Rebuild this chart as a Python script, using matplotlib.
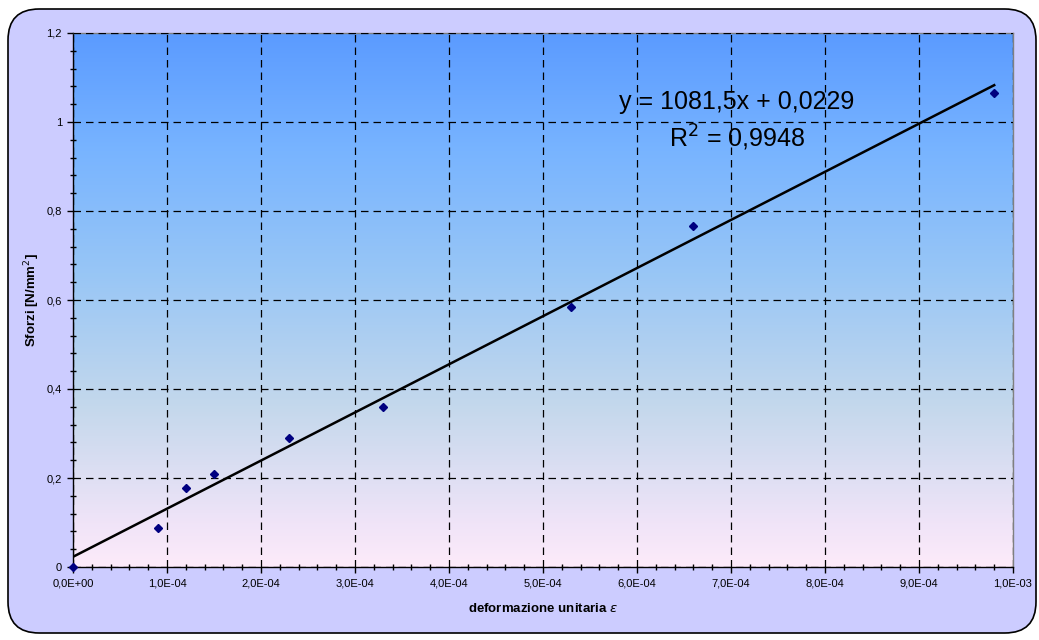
import numpy as np
import matplotlib
matplotlib.use('agg')
from matplotlib import pyplot as plt
from matplotlib.patches import FancyBboxPatch
from matplotlib.colors import LinearSegmentedColormap
from matplotlib.ticker import MultipleLocator, FuncFormatter

# measured points
strain = [0.0, 9.0e-5, 1.2e-4, 1.5e-4, 2.3e-4, 3.3e-4, 5.3e-4, 6.6e-4, 9.8e-4]
stress = [0.0, 0.087, 0.178, 0.210, 0.290, 0.360, 0.584, 0.767, 1.066]

# trendline from the sheet
slope = 1081.5
intercept = 0.0229
r_squared = 0.9948

plt.rcParams['font.family'] = ['Liberation Sans', 'DejaVu Sans']

fig = plt.figure(figsize=(10.39, 6.4), dpi=100)
fig.patch.set_facecolor('white')

# rounded chart area (behind the axes)
frame = FancyBboxPatch((8 / 1039, 7 / 640), 1028 / 1039, 624 / 640,
                       boxstyle="round,pad=0,rounding_size=0.03",
                       transform=fig.transFigure, facecolor='#CCCCFF',
                       edgecolor='black', linewidth=1.2, mutation_aspect=1039 / 640,
                       zorder=-10)
fig.add_artist(frame)

ax = fig.add_axes([73 / 1039, 1 - 567 / 640, 940 / 1039, 534 / 640])
ax.set_xlim(0, 1e-3)
ax.set_ylim(0, 1.2)

# plot area gradient, blue on top to pink at the bottom
cmap = LinearSegmentedColormap.from_list('bg', [
    (0.0, '#FDEBFA'),
    (0.08, '#F0E4F8'),
    (0.30, '#C4D8EC'),
    (0.55, '#98C6F6'),
    (0.78, '#78B4FF'),
    (1.0, '#5B9BFF'),
])
grad = np.linspace(0, 1, 256).reshape(-1, 1)
ax.imshow(grad, cmap=cmap, origin='lower', aspect='auto',
          extent=[0, 1, 0, 1], transform=ax.transAxes, zorder=0)

ax.grid(True, which='major', color='black', linestyle=(0, (6, 4)), linewidth=0.9, zorder=1)
ax.set_axisbelow(False)

xs = np.array([0, max(strain)])
ax.plot(xs, slope * xs + intercept, color='black', linewidth=1.8, zorder=3)
ax.plot(strain, stress, linestyle='none', marker='D', markersize=4.5,
        color='#000080', zorder=4, clip_on=False)

ax.xaxis.set_major_locator(MultipleLocator(1e-4))
ax.xaxis.set_minor_locator(MultipleLocator(2e-5))
ax.yaxis.set_major_locator(MultipleLocator(0.2))
ax.yaxis.set_minor_locator(MultipleLocator(0.04))
ax.xaxis.set_major_formatter(FuncFormatter(lambda v, p: f"{v:.1E}".replace('.', ',')))
ax.yaxis.set_major_formatter(FuncFormatter(lambda v, p: f"{round(v, 1):g}".replace('.', ',')))

ax.tick_params(which='major', direction='out', length=4, width=1, labelsize=8, pad=4)
ax.tick_params(which='minor', direction='inout', length=5, width=1)

ax.spines['left'].set_color('black')
ax.spines['bottom'].set_color('black')
ax.spines['top'].set_color('#808080')
ax.spines['right'].set_color('#808080')
for s in ax.spines.values():
    s.set_linewidth(1)

ax.set_xlabel('deformazione unitaria $\\epsilon$', fontsize=9.5, fontweight='bold', labelpad=10)
ax.set_ylabel('Sforzi [N/mm$^2$]', fontsize=9.5, fontweight='bold', labelpad=3)

ax.text(0.706, 0.871, f"y = {slope:.1f}x + {intercept:.4f}".replace('.', ','),
        transform=ax.transAxes, ha='center', va='center', fontsize=18, zorder=5)
ax.text(0.706, 0.803, f"R$^2$ = {r_squared:.4f}".replace('.', ','),
        transform=ax.transAxes, ha='center', va='center', fontsize=18, zorder=5)

fig.savefig('out.png', dpi=100, facecolor='white')
